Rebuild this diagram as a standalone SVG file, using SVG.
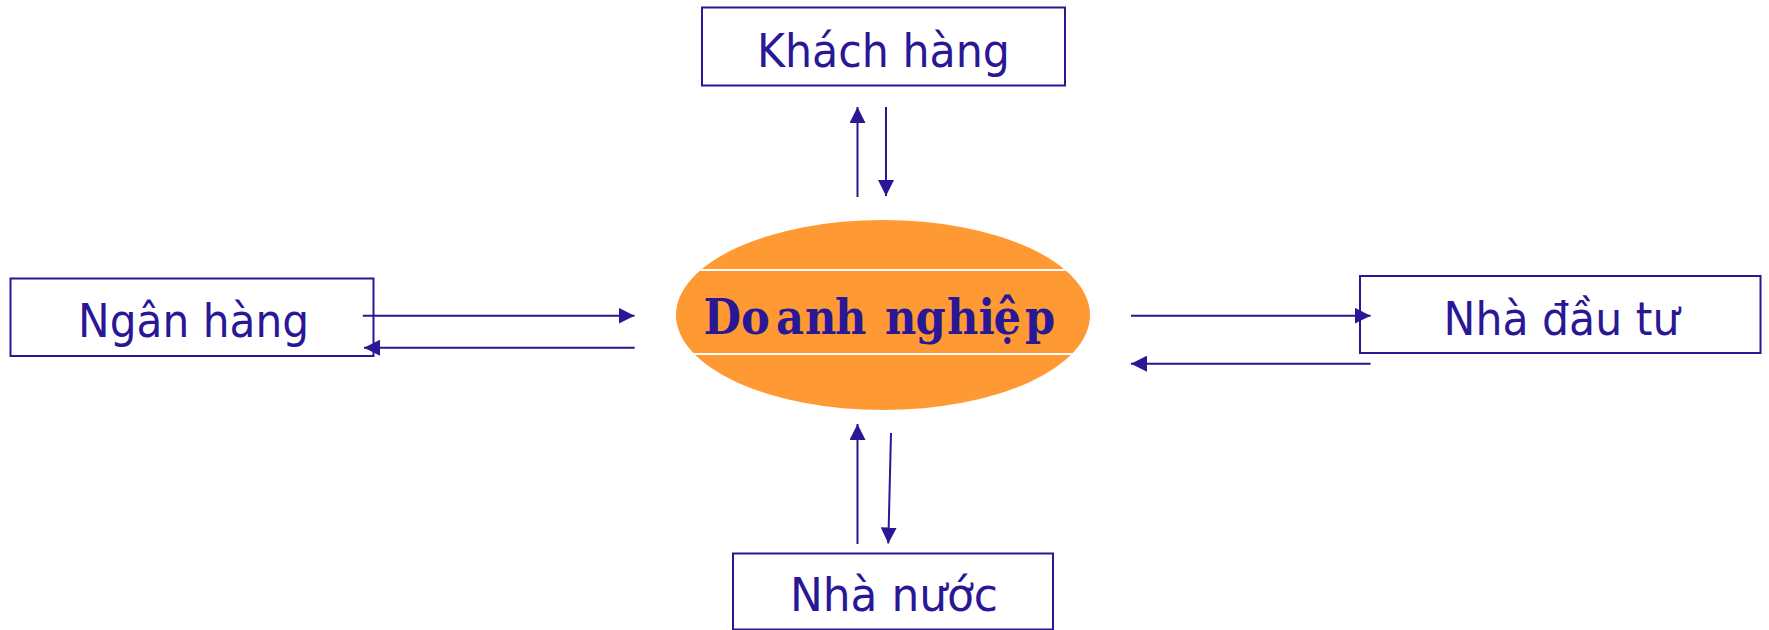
<svg xmlns="http://www.w3.org/2000/svg" width="1769" height="630" viewBox="0 0 1769 630">
<style>
.box{fill:#fff;stroke:#2a1796;stroke-width:2}
.lbl{font-family:"DejaVu Sans",Verdana,sans-serif;font-size:47px;fill:#2a1796;text-anchor:middle}
.con{stroke:#2a1796;stroke-width:2;fill:none;marker-end:url(#ah)}
.sep{stroke:#fff;stroke-width:2}
.title{font-family:"DejaVu Serif Condensed","DejaVu Serif",serif;font-stretch:condensed;font-weight:bold;font-size:48px;fill:#2a1796}
</style>
<defs>
<marker id="ah" markerUnits="userSpaceOnUse" markerWidth="16" markerHeight="16" viewBox="0 0 16 16" refX="16" refY="8" orient="auto">
<path d="M0,0 L16,8 L0,16 Z" fill="#2a1796"/>
</marker>
<clipPath id="ec"><ellipse cx="883" cy="315" rx="207" ry="95"/></clipPath>
</defs>
<rect width="1769" height="630" fill="#fff"/>
<g id="khach-hang">
<rect class="box" x="702" y="7.5" width="363" height="78"/>
<text class="lbl" x="883.5" y="66.5" textLength="253" lengthAdjust="spacingAndGlyphs">Khách hàng</text>
</g>
<g id="doanh-nghiep">
<ellipse cx="883" cy="315" rx="207" ry="95" fill="#ff9933"/>
<g clip-path="url(#ec)">
<line class="sep" x1="670" y1="270" x2="1100" y2="270"/>
<line class="sep" x1="670" y1="354" x2="1100" y2="354"/>
</g>
<text class="title" x="703.5 741 776 805 835 870 885 915.5 947 978.5 993.5 1025" y="333.5">Doanh nghiệp</text>
</g>
<g id="ngan-hang">
<rect class="box" x="10.5" y="278.5" width="363" height="77.5"/>
<text class="lbl" x="193.6" y="337" textLength="231" lengthAdjust="spacingAndGlyphs">Ngân hàng</text>
</g>
<g id="nha-dau-tu">
<rect class="box" x="1360" y="276" width="400.5" height="77"/>
<text class="lbl" x="1561.5" y="334.5" textLength="236" lengthAdjust="spacingAndGlyphs">Nhà đầu tư</text>
</g>
<g id="nha-nuoc">
<rect class="box" x="733" y="553.5" width="320" height="76"/>
<text class="lbl" x="894" y="611" textLength="208" lengthAdjust="spacingAndGlyphs">Nhà nước</text>
</g>
<g id="connectors">
<line class="con" x1="857.5" y1="197" x2="857.5" y2="107"/>
<line class="con" x1="886" y1="107" x2="886" y2="196"/>
<line class="con" x1="362.8" y1="315.7" x2="634.5" y2="315.7"/>
<line class="con" x1="634.7" y1="347.7" x2="364" y2="347.7"/>
<line class="con" x1="1131" y1="315.7" x2="1370.6" y2="315.7"/>
<line class="con" x1="1370.6" y1="363.7" x2="1131" y2="363.7"/>
<line class="con" x1="857.5" y1="544" x2="857.5" y2="424"/>
<line class="con" x1="891" y1="433" x2="888.3" y2="543.5"/>
</g>
</svg>
